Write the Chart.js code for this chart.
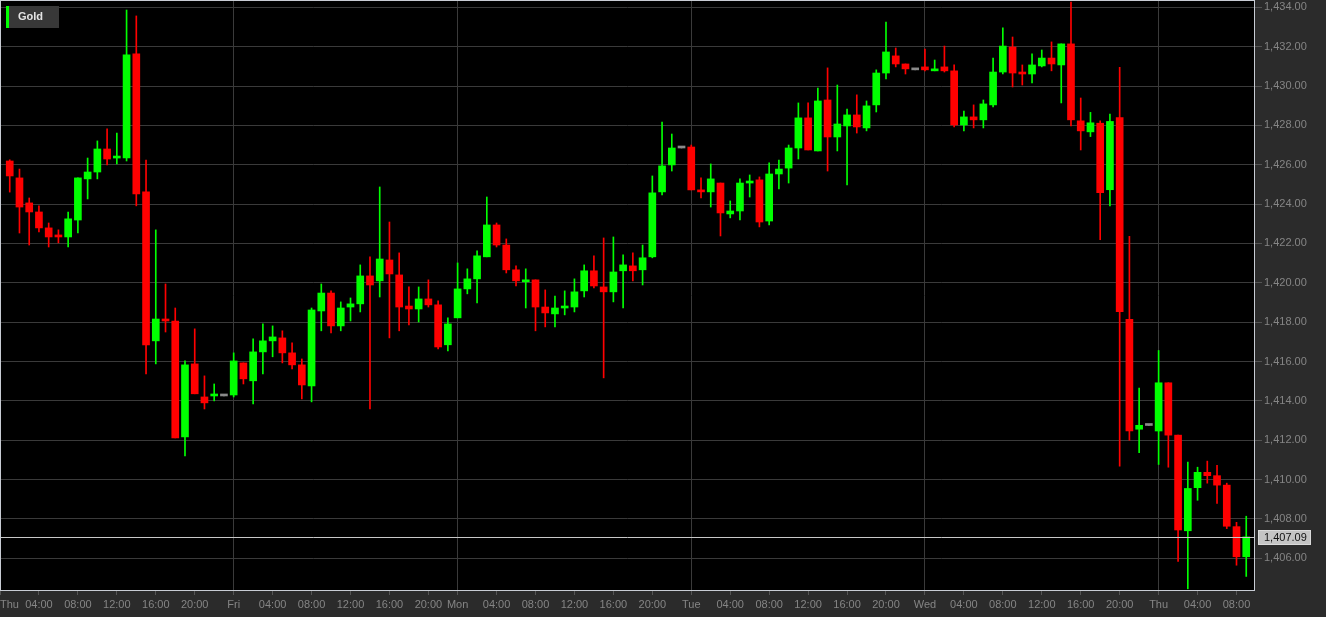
<!DOCTYPE html>
<html>
<head>
<meta charset="utf-8">
<script src="https://cdn.jsdelivr.net/npm/chart.js@4.4.1/dist/chart.umd.min.js"></script>
<style>
  html, body { margin: 0; padding: 0; background: #2b2b2b; }
</style>
</head>
<body>
<canvas id="chart" width="1326" height="617"></canvas>
<script>
// hourly gold candles, slot 0 = Thu 00:00
var days = ['Thu', 'Fri', 'Mon', 'Tue', 'Wed', 'Thu'];
var dayHours = [24, 23, 24, 24, 24, 10];
var firstSlot = 1;

var opens = [
  1426.19, 1425.33, 1424.06, 1423.60, 1422.79, 1422.38, 1422.33, 1423.19, 1425.28, 1425.63, 1426.80, 1426.34,
  1426.34, 1431.63, 1424.62, 1417.05, 1418.11, 1418.06, 1412.17, 1415.88, 1414.20, 1414.25, 1414.25, 1414.30,
  1415.93, 1415.02, 1416.49, 1417.05, 1417.20, 1416.44, 1415.83, 1414.76, 1418.57, 1419.48, 1417.81, 1418.77,
  1418.93, 1420.35, 1420.10, 1421.16, 1420.40, 1418.82, 1418.67, 1419.18, 1418.88, 1416.85, 1418.22, 1419.69,
  1420.20, 1421.32, 1422.94, 1421.92, 1420.66, 1420.05, 1420.15, 1418.77, 1418.42, 1418.72, 1418.77, 1419.59,
  1420.61, 1419.79, 1419.54, 1420.61, 1420.86, 1420.66, 1421.32, 1424.62, 1425.99, 1426.85, 1426.90, 1424.67,
  1424.62, 1425.07, 1423.50, 1423.65, 1425.07, 1425.23, 1423.14, 1425.53, 1425.83, 1426.85, 1428.38, 1426.70,
  1429.29, 1427.41, 1427.97, 1428.53, 1427.87, 1429.04, 1430.66, 1431.53, 1431.12, 1430.82, 1430.97, 1430.77,
  1430.97, 1430.77, 1428.02, 1428.43, 1428.28, 1429.04, 1430.71, 1431.98, 1430.66, 1430.61, 1431.02, 1431.42,
  1431.07, 1432.14, 1428.23, 1427.67, 1428.11, 1424.73, 1428.39, 1418.15, 1412.56, 1412.75, 1412.47, 1414.92,
  1412.26, 1407.40, 1409.59, 1410.37, 1410.20, 1409.72, 1407.61, 1406.08
];
var highs = [
  1426.25, 1425.78, 1424.31, 1423.91, 1423.04, 1422.69, 1423.60, 1425.33, 1426.34, 1427.21, 1427.82, 1427.61,
  1433.86, 1433.56, 1426.24, 1422.69, 1419.94, 1418.72, 1416.03, 1417.66, 1415.27, 1414.86, 1414.25, 1416.44,
  1415.93, 1417.15, 1417.91, 1417.81, 1417.56, 1416.95, 1416.13, 1418.72, 1419.94, 1419.59, 1419.03, 1419.23,
  1420.91, 1421.32, 1424.87, 1423.09, 1421.52, 1419.79, 1419.79, 1420.15, 1419.08, 1418.22, 1421.01, 1420.71,
  1421.62, 1424.36, 1423.04, 1422.23, 1420.86, 1420.71, 1420.15, 1419.64, 1419.33, 1419.59, 1420.20, 1420.91,
  1421.37, 1422.28, 1422.33, 1421.42, 1421.52, 1421.92, 1425.43, 1428.17, 1427.56, 1426.85, 1427.00, 1425.33,
  1426.04, 1425.07, 1424.16, 1425.28, 1425.48, 1425.38, 1426.09, 1426.24, 1427.00, 1429.14, 1429.14, 1429.90,
  1430.92, 1430.05, 1428.83, 1429.55, 1429.24, 1430.82, 1433.25, 1431.93, 1431.12, 1430.82, 1431.88, 1431.32,
  1432.03, 1431.07, 1428.73, 1429.04, 1429.29, 1431.42, 1432.95, 1432.49, 1431.07, 1431.63, 1431.83, 1432.24,
  1432.14, 1434.27, 1429.39, 1428.66, 1428.23, 1428.57, 1430.95, 1422.36, 1414.65, 1412.75, 1416.56, 1414.92,
  1412.26, 1410.89, 1410.63, 1410.94, 1410.72, 1409.82, 1407.83, 1408.14
];
var lows = [
  1424.61, 1422.53, 1421.92, 1422.58, 1421.82, 1422.03, 1421.82, 1422.53, 1424.26, 1425.28, 1425.99, 1426.04,
  1426.19, 1423.91, 1415.37, 1415.88, 1417.50, 1412.12, 1411.21, 1414.36, 1413.59, 1414.00, 1414.25, 1414.20,
  1414.86, 1413.85, 1415.37, 1416.24, 1415.93, 1415.63, 1414.10, 1413.95, 1417.56, 1417.45, 1417.56, 1418.06,
  1418.52, 1413.59, 1419.28, 1417.20, 1417.56, 1417.86, 1418.01, 1418.77, 1416.64, 1416.54, 1418.22, 1419.44,
  1418.98, 1421.32, 1421.82, 1420.50, 1419.84, 1418.72, 1417.56, 1417.76, 1417.76, 1418.37, 1418.52, 1419.28,
  1419.74, 1415.17, 1419.03, 1418.72, 1420.10, 1419.89, 1421.27, 1424.47, 1425.68, 1426.85, 1424.72, 1424.31,
  1423.85, 1422.38, 1423.30, 1423.19, 1424.36, 1422.84, 1422.94, 1424.77, 1425.07, 1426.29, 1426.75, 1426.70,
  1425.68, 1426.70, 1424.97, 1427.61, 1427.72, 1428.68, 1430.36, 1430.97, 1430.61, 1430.82, 1430.77, 1430.77,
  1430.71, 1427.92, 1427.72, 1427.87, 1427.87, 1428.94, 1430.61, 1429.95, 1430.05, 1430.16, 1430.97, 1430.77,
  1429.14, 1427.97, 1426.75, 1427.43, 1422.19, 1423.91, 1410.68, 1412.00, 1411.37, 1412.75, 1410.77, 1410.63,
  1405.84, 1404.45, 1408.95, 1409.82, 1408.79, 1407.51, 1405.65, 1405.08
];
var closes = [
  1425.43, 1423.85, 1423.60, 1422.79, 1422.33, 1422.33, 1423.25, 1425.33, 1425.63, 1426.80, 1426.29, 1426.39,
  1431.58, 1424.52, 1416.85, 1418.16, 1418.06, 1412.12, 1415.83, 1414.36, 1413.90, 1414.30, 1414.25, 1416.03,
  1415.12, 1416.49, 1417.05, 1417.25, 1416.44, 1415.83, 1414.81, 1418.62, 1419.48, 1417.81, 1418.72, 1418.93,
  1420.35, 1419.89, 1421.21, 1420.45, 1418.77, 1418.67, 1419.18, 1418.88, 1416.74, 1417.91, 1419.69, 1420.20,
  1421.37, 1422.94, 1421.92, 1420.66, 1420.10, 1420.15, 1418.77, 1418.47, 1418.72, 1418.77, 1419.54, 1420.61,
  1419.84, 1419.54, 1420.55, 1420.91, 1420.61, 1421.27, 1424.57, 1425.94, 1426.85, 1426.85, 1424.72, 1424.62,
  1425.28, 1423.55, 1423.65, 1425.07, 1425.12, 1423.09, 1425.53, 1425.78, 1426.85, 1428.38, 1426.75, 1429.24,
  1427.41, 1428.07, 1428.53, 1427.92, 1428.99, 1430.66, 1431.73, 1431.12, 1430.87, 1430.82, 1430.82, 1430.87,
  1430.77, 1428.02, 1428.43, 1428.28, 1429.09, 1430.71, 1432.03, 1430.66, 1430.61, 1431.07, 1431.42, 1431.12,
  1432.14, 1428.28, 1427.72, 1428.13, 1424.58, 1428.20, 1418.53, 1412.47, 1412.76, 1412.75, 1414.92, 1412.26,
  1407.44, 1409.55, 1410.37, 1410.20, 1409.72, 1407.63, 1406.08, 1407.09
];

var priceTicks = [1406, 1408, 1410, 1412, 1414, 1416, 1418, 1420, 1422, 1424, 1426, 1428, 1430, 1432, 1434];
var yMin = 1404.34, yMax = 1434.37;
var xMax = 128.9;

var GREEN = '#00ff00', RED = '#ff0000', FLAT = '#8a8a8a';
var TEXT = '#858585', GRID = '#3a3a3a';
var FONT = { family: 'Liberation Sans, Arial, sans-serif', size: 11 };

// time slots -> day / hour
var slotDay = [], slotHour = [];
days.forEach(function (d, i) {
  for (var h = 0; h < dayHours[i]; h++) { slotDay.push(d); slotHour.push(h); }
});
var tickSlots = [];
slotHour.forEach(function (h, s) { if (h % 4 === 0) tickSlots.push(s); });

var wicks = [], bodies = [], colors = [];
for (var i = 0; i < opens.length; i++) {
  var x = firstSlot + i;
  wicks.push({ x: x, y: [lows[i], highs[i]] });
  bodies.push({ x: x, y: [opens[i], closes[i]] });
  colors.push(closes[i] > opens[i] ? GREEN : (closes[i] < opens[i] ? RED : FLAT));
}

function fmt(v) {
  var p = v.toFixed(2).split('.');
  p[0] = p[0].replace(/\B(?=(\d{3})+(?!\d))/g, ',');
  return p.join('.');
}

var frame = {
  id: 'frame',
  beforeDraw: function (chart) {
    var c = chart.ctx, a = chart.chartArea;
    c.save();
    c.fillStyle = '#2b2b2b';
    c.fillRect(0, 0, chart.width, chart.height);
    c.fillStyle = '#000000';
    c.fillRect(a.left, a.top, a.right - a.left, a.bottom - a.top);
    c.restore();
  },
  afterDatasetsDraw: function (chart) {
    var c = chart.ctx, a = chart.chartArea;
    var last = closes[closes.length - 1];
    var y = Math.round(chart.scales.y.getPixelForValue(last)) + 0.5;
    c.save();
    c.strokeStyle = '#c8c8c8';
    c.lineWidth = 1;
    c.beginPath();
    c.moveTo(a.left, y);
    c.lineTo(a.right, y);
    c.stroke();
    c.restore();
  },
  afterDraw: function (chart) {
    var c = chart.ctx, a = chart.chartArea;
    c.save();
    // plot border
    c.strokeStyle = '#c8ccd4';
    c.lineWidth = 1;
    c.strokeRect(a.left + 0.5, a.top + 0.5, a.right - a.left - 1, a.bottom - a.top - 1);

    // last price tag
    var last = closes[closes.length - 1];
    var y = Math.round(chart.scales.y.getPixelForValue(last));
    var bx = a.right + 3, bw = 53, bh = 15;
    c.fillStyle = '#c4c4c4';
    c.fillRect(bx, y - 7, bw, bh);
    c.setLineDash([1, 1]);
    c.strokeStyle = '#f0f0f0';
    c.strokeRect(bx + 0.5, y - 6.5, bw - 1, bh - 1);
    c.setLineDash([]);
    c.fillStyle = '#111111';
    c.font = '11px ' + FONT.family;
    c.textBaseline = 'middle';
    c.textAlign = 'left';
    c.fillText(fmt(last), bx + 6, y + 1);

    // legend
    c.fillStyle = '#383838';
    c.fillRect(a.left + 9, a.top + 6, 50, 22);
    c.fillStyle = GREEN;
    c.fillRect(a.left + 6, a.top + 6, 3, 22);
    c.fillStyle = '#e4e4e4';
    c.font = 'bold 11px ' + FONT.family;
    c.fillText('Gold', a.left + 18, a.top + 17);
    c.restore();
  }
};

new Chart(document.getElementById('chart'), {
  type: 'bar',
  data: {
    datasets: [
      { data: wicks, backgroundColor: colors, barThickness: 1, grouped: false, minBarLength: 1, order: 2 },
      { data: bodies, backgroundColor: colors, barThickness: 7, grouped: false, minBarLength: 2, order: 1 }
    ]
  },
  options: {
    responsive: false,
    devicePixelRatio: 1,
    animation: false,
    layout: { padding: 0 },
    plugins: { legend: { display: false }, tooltip: { enabled: false } },
    scales: {
      x: {
        type: 'linear',
        min: 0,
        max: xMax,
        offset: false,
        afterBuildTicks: function (scale) {
          scale.ticks = tickSlots.map(function (s) { return { value: s }; }).concat([{ value: xMax }]);
        },
        afterFit: function (scale) {
          scale.height = 26;
          scale.paddingLeft = 0;
          scale.paddingRight = 0;
        },
        border: { display: false },
        grid: {
          offset: false,
          color: function (ctx) {
            var v = ctx.tick && ctx.tick.value;
            return (slotHour[v] === 0 && v > 0) ? GRID : 'rgba(0,0,0,0)';
          },
          tickColor: function (ctx) {
            var v = ctx.tick && ctx.tick.value;
            return slotHour[v] !== undefined ? '#555555' : 'rgba(0,0,0,0)';
          },
          tickLength: 4
        },
        ticks: {
          align: 'inner',
          autoSkip: false,
          maxRotation: 0,
          padding: 3,
          color: TEXT,
          font: FONT,
          callback: function (v) {
            if (slotHour[v] === undefined) return '';
            var h = slotHour[v];
            return h === 0 ? slotDay[v] : (h < 10 ? '0' : '') + h + ':00';
          }
        }
      },
      y: {
        position: 'right',
        min: yMin,
        max: yMax,
        afterBuildTicks: function (scale) {
          scale.ticks = priceTicks.map(function (v) { return { value: v }; });
        },
        afterFit: function (scale) {
          scale.width = 71;
          scale.paddingTop = 0;
          scale.paddingBottom = 0;
        },
        border: { display: false },
        grid: { color: GRID, tickColor: '#555555', tickLength: 7 },
        ticks: { padding: 2, color: TEXT, font: FONT, callback: function (v) { return fmt(v); } }
      }
    }
  },
  plugins: [frame]
});
</script>
</body>
</html>
